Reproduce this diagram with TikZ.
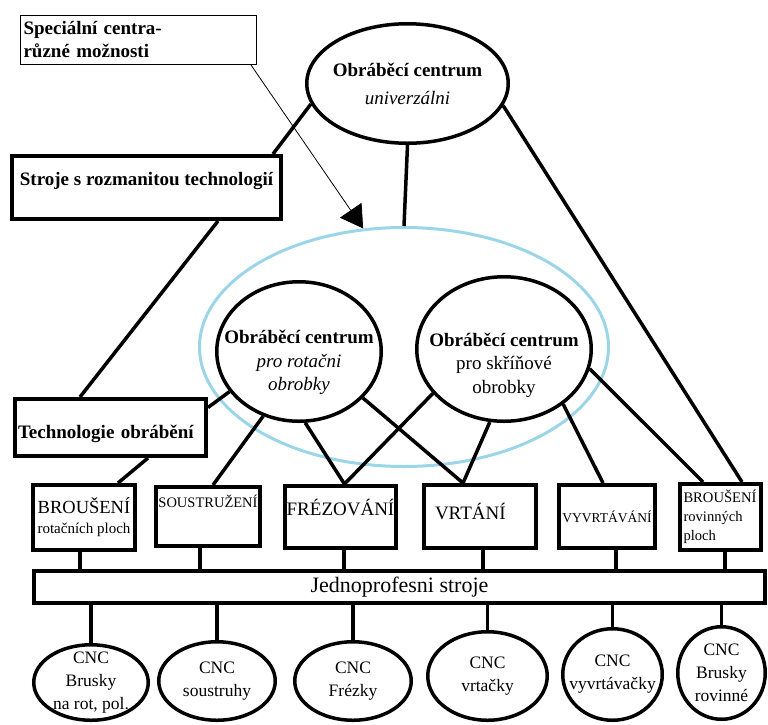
\documentclass[tikz,border=0pt]{standalone}
\usepackage{fontspec}
\setmainfont{Liberation Serif}
\usepackage{xcolor}
\usetikzlibrary{shapes.geometric, arrows.meta}

\definecolor{ringblue}{RGB}{155,214,232}
\newcommand{\txtsize}[2]{\fontsize{#1}{#2}\selectfont}

\begin{document}
\begin{tikzpicture}[
    x=1pt, y=-1pt,
    box/.style={rectangle, draw=black, line width=4pt, inner sep=0pt},
    oval/.style={ellipse, draw=black, line width=3.5pt, inner sep=-20pt, align=center},
    link/.style={line width=3.5pt},
    pointer/.style={line width=0.8pt, -{Triangle[length=22pt, width=26pt]}}
]
\useasboundingbox (0,0) rectangle (768,724);

% ring round the special centres
\node[ellipse, draw=ringblue, line width=3pt, minimum width=409, minimum height=239] (ring) at (404,347) {};

% top part
\node[box, line width=1pt, minimum width=236, minimum height=49, text width=230pt, align=left, inner xsep=3pt, font=\bfseries\txtsize{19}{23}] (spec) at (138.5,40) {Speciální centra-\\různé možnosti};
\node[oval, minimum width=201.5, minimum height=119.5, font=\txtsize{19}{28}] (univ) at (407.5,83.5) {\textbf{Obráběcí centrum}\\\textit{univerzálni}};
\node[box, minimum width=269, minimum height=63, text height=14pt, text depth=19pt, font=\bfseries\txtsize{19}{23}] (stroje) at (146.5,187.5) {Stroje s rozmanitou technologií};
\node[box, minimum width=191, minimum height=57, text width=185pt, align=left, inner xsep=3pt, text height=21pt, text depth=0pt, font=\bfseries\txtsize{19}{23}] (tech) at (110.5,427.5) {Technologie obrábění};

% centres inside the ring
\node[oval, minimum width=164.5, minimum height=139.5, font=\txtsize{19}{23.5}] (rot) at (299,351.5) {\rule{0pt}{36pt}\textbf{Obráběcí centrum}\\\textit{pro rotačni}\\\textit{obrobky}};
\node[oval, minimum width=174.5, minimum height=144.5, font=\txtsize{19}{23.5}] (skr) at (504,349) {\rule{0pt}{46pt}\textbf{Obráběcí centrum}\\pro skříňové\\obrobky};

% technologies
\node[box, minimum width=102, minimum height=65, align=center, font=\txtsize{15}{20}] (b1) at (84,517.5) {{\txtsize{18.5}{20}BROUŠENÍ}\\rotačních ploch};
\node[box, minimum width=104, minimum height=59, text height=13pt, text depth=32pt, font=\txtsize{14.5}{18}] (b2) at (208,516.5) {SOUSTRUŽENÍ};
\node[box, minimum width=111, minimum height=62, text height=17pt, text depth=21pt, font=\txtsize{19}{23}] (b3) at (340.5,517) {FRÉZOVÁNÍ};
\node[box, minimum width=112, minimum height=63, text width=90pt, inner xsep=11pt, align=left, text height=17pt, text depth=12pt, font=\txtsize{19}{23}] (b4) at (480,516.5) {VRTÁNÍ};
\node[box, minimum width=96, minimum height=63, font=\txtsize{13.5}{16}] (b5) at (607,516.5) {VYVRTÁVÁNÍ};
\node[box, minimum width=81, minimum height=66, text width=74pt, inner xsep=3.5pt, align=left, font=\txtsize{14.6}{19}] (b6) at (720.5,517) {BROUŠENÍ\\rovinných\\ploch};

\node[box, minimum width=731, minimum height=32, font=\txtsize{22}{26}] (bar) at (399.5,587) {Jednoprofesni stroje};

% machines
\node[oval, minimum width=114.5, minimum height=75.5, font=\txtsize{17.5}{23}] (e1) at (91,682.5) {CNC\\Brusky\\na rot, pol.};
\node[oval, minimum width=116.5, minimum height=78.5, font=\txtsize{17.5}{23}] (e2) at (217,681) {CNC\\soustruhy};
\node[oval, minimum width=116.5, minimum height=78.5, font=\txtsize{17.5}{23}] (e3) at (353,681) {CNC\\Frézky};
\node[oval, minimum width=119.5, minimum height=88.5, font=\txtsize{17.5}{23}] (e4) at (487.5,676) {CNC\\vrtačky};
\node[oval, minimum width=99.5, minimum height=91.5, font=\txtsize{17.5}{23}] (e5) at (612.5,674.5) {CNC\\vyvrtávačky};
\node[oval, minimum width=87.5, minimum height=92.5, font=\txtsize{17.5}{23}] (e6) at (721.5,673) {CNC\\Brusky\\rovinné};

% connectors
\draw[link] ([xshift=-10pt]stroje.north east) -- (univ.192);
\draw[link] (univ.south) -- (ring.north);
\draw[link] (univ.347) -- ([xshift=21.5pt]b6.north);
\draw[pointer] ([xshift=-6pt]spec.south east) -- (ring.109);
\draw[link] ([xshift=-65pt]stroje.south east) -- ([xshift=67pt]tech.north west);
\draw[link] ([yshift=20pt]tech.east) -- (rot.210);
\draw[link] ([xshift=135pt]tech.south west) -- ([xshift=87pt]b1.north west);

\draw[link] (rot.241) -- ([xshift=5pt]b2.north);
\draw[link] (rot.275) -- ([xshift=4pt]b3.north);
\draw[link] (rot.324) -- ([xshift=-17pt]b4.north);
\draw[link] (skr.212) -- ([xshift=4pt]b3.north);
\draw[link] (skr.259) -- ([xshift=-17pt]b4.north);
\draw[link] (skr.317) -- ([xshift=-4pt]b5.north);
\draw[link] (skr.347) -- ([xshift=-17.5pt]b6.north);

\draw[link] ([xshift=-4pt]b1.south) -- ([xshift=-4pt]b1.south |- bar.north);
\draw[link] ([xshift=-8pt]b2.south) -- ([xshift=-8pt]b2.south |- bar.north);
\draw[link] ([xshift=3.5pt]b3.south) -- ([xshift=3.5pt]b3.south |- bar.north);
\draw[link] ([xshift=3pt]b4.south) -- ([xshift=3pt]b4.south |- bar.north);
\draw[link] ([xshift=9pt]b5.south) -- ([xshift=9pt]b5.south |- bar.north);
\draw[link] ([xshift=4.5pt]b6.south) -- ([xshift=4.5pt]b6.south |- bar.north);

\draw[link] (e1.north |- bar.south) -- (e1.north);
\draw[link] (e2.north |- bar.south) -- (e2.north);
\draw[link] (e3.north |- bar.south) -- (e3.north);
\draw[link] (e4.north |- bar.south) -- (e4.north);
\draw[link] (e5.north |- bar.south) -- (e5.north);
\draw[link] (e6.north |- bar.south) -- (e6.north);
\end{tikzpicture}
\end{document}
